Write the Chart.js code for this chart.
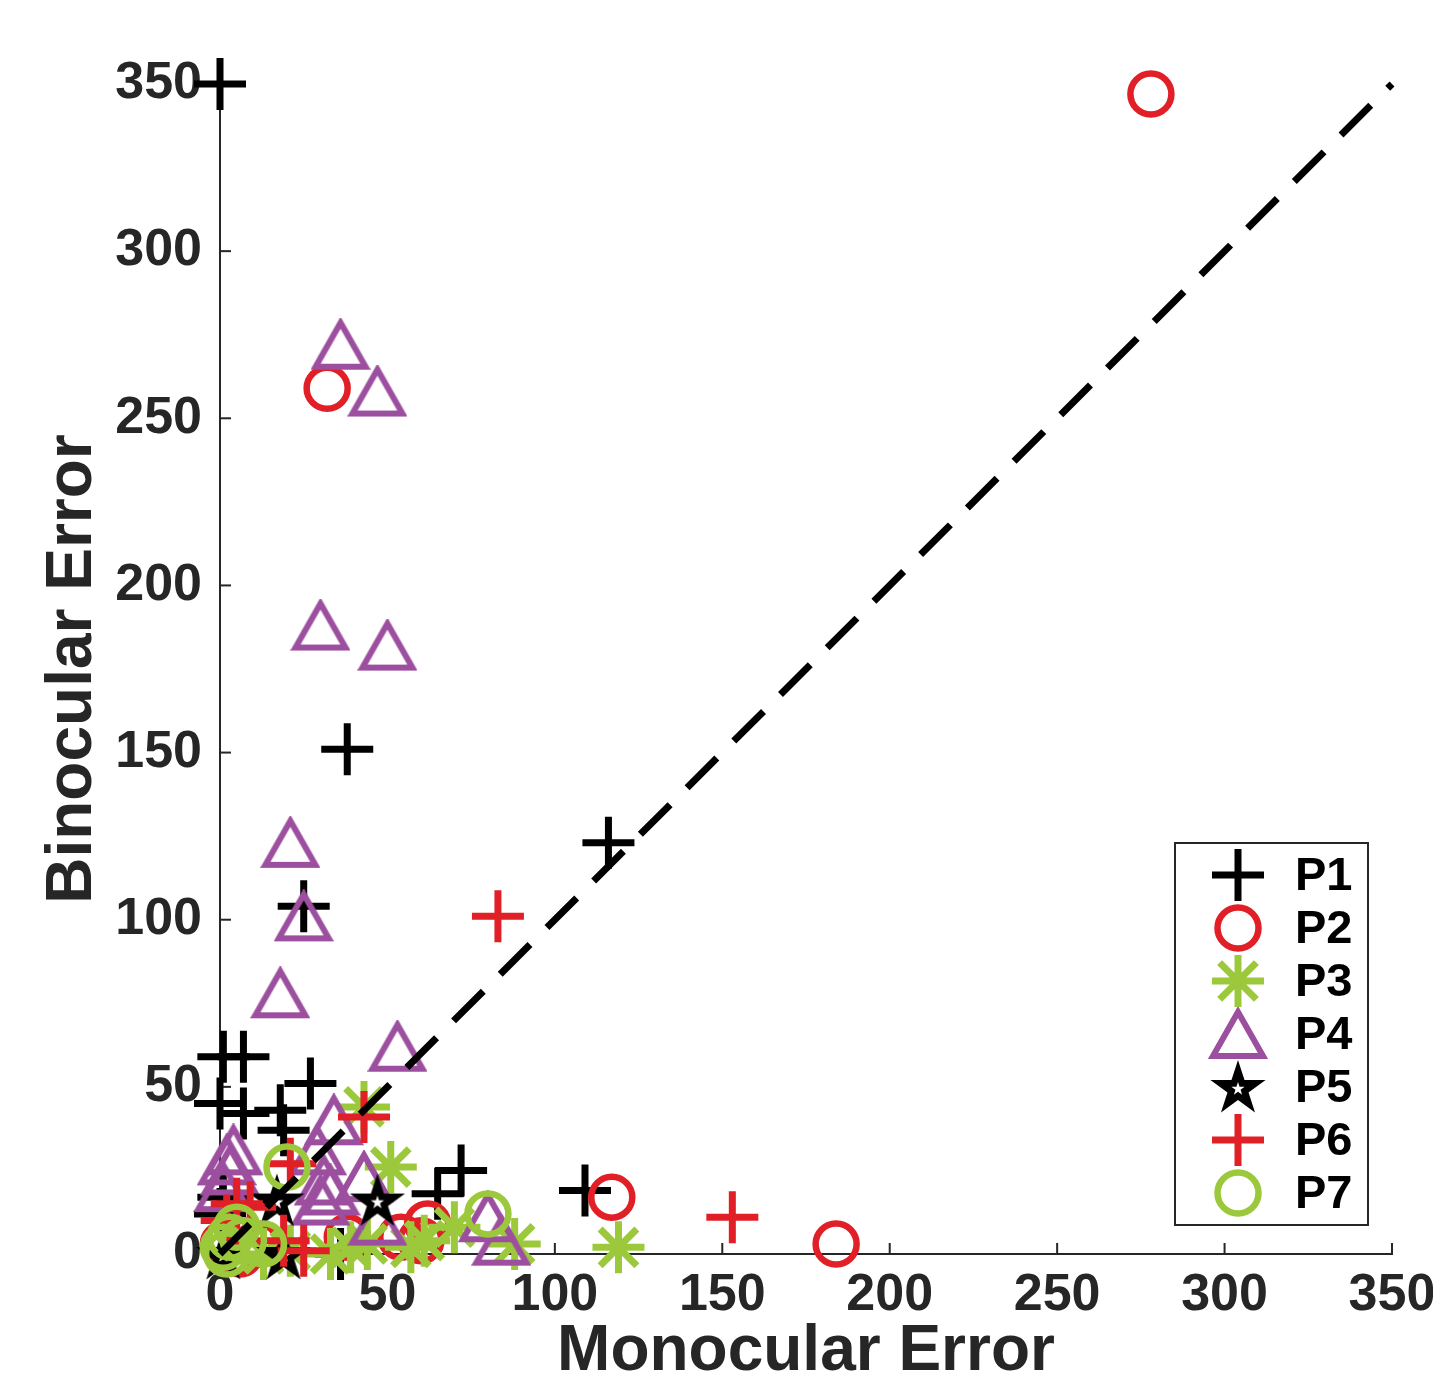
<!DOCTYPE html>
<html>
<head>
<meta charset="utf-8">
<title>Monocular vs Binocular Error</title>
<script src="https://cdn.jsdelivr.net/npm/chart.js@4.4.1/dist/chart.umd.min.js"></script>
<style>
  html, body { margin: 0; padding: 0; background: #fff; }
  #wrap { width: 1433px; height: 1384px; }
</style>
</head>
<body>
<div id="wrap"><canvas id="errorChart" width="1433" height="1384"></canvas></div>
<script>
// values (monocular error on x, binocular error on y)
const seriesNames = ["P1", "P2", "P3", "P4", "P5", "P6", "P7"];

const p1X = [0, 38, 116, 25, 1, 7, 0, 7, 18, 19, 27, 72, 65, 109, 36, 0, 1];
const p1Y = [350, 151, 123, 104, 59, 59, 45, 42, 43, 37, 51, 25, 18, 19, 0, 12, 17];

const p2X = [278, 32, 117, 184, 38, 54, 62, 60, 1, 6, 11];
const p2Y = [347, 259, 17, 3, 5, 5, 9, 4, 3, 0, 3];

const p3X = [119, 43, 51, 39, 44, 57, 61, 70, 88, 33, 13, 21];
const p3Y = [2, 44, 26, 2, 3, 2, 4, 8, 3, 0, 0, 1];

const p4X = [36, 47, 30, 50, 21, 25, 18, 53, 34, 43, 47, 33, 29, 31, 30, 80, 84, 4, 2, 3, 1];
const p4Y = [272, 258, 188, 182, 123, 101, 78, 62, 40, 23, 10, 19, 31, 22, 16, 11, 4, 31, 28, 25, 20];

const p5X = [47, 17, 1, 19];
const p5Y = [16, 16, 0, 0];

const p6X = [83, 153, 43, 21, 9, 2, 19, 25, 5];
const p6Y = [101, 11, 41, 27, 14, 10, 4, 1, 15];

const p7X = [80, 20, 1, 3, 5, 7, 2, 13];
const p7Y = [12, 26, 2, 5, 8, 4, 0, 3];

// y = x reference line
const diagonal = [0, 350];

const axisTicks = [0, 50, 100, 150, 200, 250, 300, 350];

const INK = "#262626";
const RED = "#e11f27";
const GREEN = "#9cc93b";
const PURPLE = "#9c4f9f";

function toPoints(xs, ys) {
  return xs.map((x, i) => ({ x: x, y: ys[i] }));
}

// MATLAB style '^' marker (centered on its bounding box)
function makeTriangle(color) {
  const c = document.createElement("canvas");
  c.width = 60; c.height = 54;
  const g = c.getContext("2d");
  g.strokeStyle = color;
  g.lineWidth = 6;
  g.lineJoin = "miter";
  g.beginPath();
  g.moveTo(30, 5);
  g.lineTo(5, 49);
  g.lineTo(55, 49);
  g.closePath();
  g.stroke();
  return c;
}

// filled pentagram with the little white hole in the middle
function makePentagram(color) {
  const c = document.createElement("canvas");
  c.width = 62; c.height = 62;
  const g = c.getContext("2d");
  function star(cx, cy, r, fill) {
    g.beginPath();
    for (let i = 0; i < 10; i++) {
      const rr = i % 2 === 0 ? r : r * 0.382;
      const a = -Math.PI / 2 + i * Math.PI / 5;
      const px = cx + rr * Math.cos(a), py = cy + rr * Math.sin(a);
      if (i === 0) g.moveTo(px, py); else g.lineTo(px, py);
    }
    g.closePath();
    g.fillStyle = fill;
    g.fill();
  }
  star(31, 33, 29, color);
  star(31, 33, 7, "#ffffff");
  return c;
}

const markerStyles = [
  { color: "#000000", pointStyle: "cross", radius: 26, width: 7 },
  { color: RED, pointStyle: "circle", radius: 20.5, width: 6.5 },
  { color: GREEN, pointStyle: "star", radius: 26, width: 7 },
  { color: PURPLE, pointStyle: makeTriangle(PURPLE), radius: 27, width: 0 },
  { color: "#000000", pointStyle: makePentagram("#000000"), radius: 29, width: 0 },
  { color: RED, pointStyle: "cross", radius: 26, width: 7 },
  { color: GREEN, pointStyle: "circle", radius: 20.5, width: 6.5 },
];

const seriesData = [
  toPoints(p1X, p1Y), toPoints(p2X, p2Y), toPoints(p3X, p3Y), toPoints(p4X, p4Y),
  toPoints(p5X, p5Y), toPoints(p6X, p6Y), toPoints(p7X, p7Y),
];

const datasets = [
  {
    label: "",
    data: toPoints(diagonal, diagonal),
    showLine: true,
    borderColor: "#000000",
    borderWidth: 7,
    borderDash: [42, 24],
    pointRadius: 0,
    order: 0,
    clip: false,
  },
];
seriesNames.forEach((name, i) => {
  const s = markerStyles[i];
  datasets.push({
    label: name,
    data: seriesData[i],
    showLine: false,
    pointStyle: s.pointStyle,
    pointRadius: s.radius,
    pointHoverRadius: s.radius,
    pointBorderWidth: s.width,
    pointBorderColor: s.color,
    pointBackgroundColor: "rgba(0,0,0,0)",
    order: 7 - i,
    clip: false,
  });
});

// MATLAB puts the tick marks inside the axes
const innerTicks = {
  id: "innerTicks",
  beforeDatasetsDraw(chart) {
    const { ctx, chartArea, scales } = chart;
    ctx.save();
    ctx.strokeStyle = INK;
    ctx.lineWidth = 2;
    scales.x.ticks.forEach((t) => {
      const px = scales.x.getPixelForValue(t.value);
      ctx.beginPath();
      ctx.moveTo(px, chartArea.bottom);
      ctx.lineTo(px, chartArea.bottom - 11);
      ctx.stroke();
    });
    scales.y.ticks.forEach((t) => {
      const py = scales.y.getPixelForValue(t.value);
      ctx.beginPath();
      ctx.moveTo(chartArea.left, py);
      ctx.lineTo(chartArea.left + 11, py);
      ctx.stroke();
    });
    ctx.restore();
  },
};

// boxed legend in the lower right of the axes
const boxedLegend = {
  id: "boxedLegend",
  afterDraw(chart) {
    const { ctx, chartArea } = chart;
    const w = 193, h = 382;
    const left = chartArea.right - 24 - w;
    const top = chartArea.bottom - 29 - h;
    ctx.save();
    ctx.fillStyle = "#ffffff";
    ctx.fillRect(left, top, w, h);
    ctx.strokeStyle = INK;
    ctx.lineWidth = 2;
    ctx.strokeRect(left, top, w, h);
    chart.data.datasets.filter((d) => d.label).forEach((ds, i) => {
      const cy = top + 32 + i * 53;
      const cx = left + 63;
      ctx.strokeStyle = ds.pointBorderColor;
      ctx.fillStyle = ds.pointBackgroundColor;
      ctx.lineWidth = ds.pointBorderWidth;
      Chart.helpers.drawPoint(ctx, {
        pointStyle: ds.pointStyle,
        radius: ds.pointRadius,
        borderWidth: ds.pointBorderWidth,
        rotation: 0,
      }, cx, cy);
      ctx.fillStyle = "#000000";
      ctx.font = 'bold 47px "Liberation Sans", Arial, sans-serif';
      ctx.textAlign = "left";
      ctx.textBaseline = "middle";
      ctx.fillText(ds.label, left + 120, cy + 2);
    });
    ctx.restore();
  },
};

Chart.defaults.font.family = '"Liberation Sans", Arial, sans-serif';
Chart.defaults.color = INK;

const ctx = document.getElementById("errorChart").getContext("2d");
new Chart(ctx, {
  type: "scatter",
  data: { datasets: datasets },
  plugins: [innerTicks, boxedLegend],
  options: {
    responsive: false,
    animation: false,
    devicePixelRatio: 1,
    events: [],
    layout: { padding: { top: 84, right: 41, left: 0, bottom: 0 } },
    plugins: {
      legend: { display: false },
      tooltip: { enabled: false },
    },
    scales: {
      x: {
        type: "linear",
        min: 0,
        max: 350,
        afterBuildTicks: (scale) => { scale.ticks = axisTicks.map((v) => ({ value: v })); },
        afterFit: (scale) => {
          scale.height = 130;
          scale.paddingLeft = 0;
          scale.paddingRight = 0;
        },
        ticks: {
          padding: 10,
          maxRotation: 0,
          autoSkip: false,
          color: INK,
          font: { size: 52, weight: "bold" },
        },
        grid: { display: false, drawTicks: false },
        border: { display: true, color: INK, width: 2 },
        title: {
          display: true,
          text: "Monocular Error",
          color: INK,
          padding: 0,
          font: { size: 64, weight: "bold", lineHeight: 1 },
        },
      },
      y: {
        type: "linear",
        min: 0,
        max: 350,
        afterBuildTicks: (scale) => { scale.ticks = axisTicks.map((v) => ({ value: v })); },
        afterFit: (scale) => {
          scale.width = 220;
          scale.paddingTop = 0;
          scale.paddingBottom = 0;
        },
        ticks: {
          padding: 18,
          autoSkip: false,
          color: INK,
          font: { size: 52, weight: "bold" },
        },
        grid: { display: false, drawTicks: false },
        border: { display: true, color: INK, width: 2 },
        title: {
          display: true,
          text: "Binocular Error",
          color: INK,
          padding: { top: 41, bottom: 0 },
          font: { size: 64, weight: "bold", lineHeight: 1 },
        },
      },
    },
  },
});
</script>
</body>
</html>
